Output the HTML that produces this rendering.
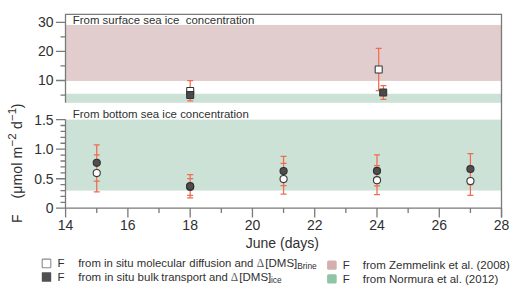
<!DOCTYPE html>
<html><head><meta charset="utf-8"><style>
html,body{margin:0;padding:0;background:#fff;}
body{width:520px;height:296px;overflow:hidden;}
svg{display:block;font-family:"Liberation Sans",sans-serif;fill:#222;}
text{fill:#303030;}
</style></head><body>
<svg width="520" height="296" viewBox="0 0 520 296">
<rect x="66.0" y="24.92" width="435.0" height="56.02" fill="#e1cdcd"/>
<rect x="66.0" y="93.74" width="435.0" height="9.06" fill="#cce2d6"/>
<rect x="66.0" y="119.61" width="435.0" height="70.96" fill="#cce2d6"/>
<path d="M65.5 102.8V14.3H501.5V217.6 M65.5 119.5V208.1 M56 208.1H501.5" fill="none" stroke="#7a7a7a" stroke-width="1.3"/>
<path d="M56 80.50H65.5 M56 51.40H65.5 M56 22.30H65.5 M60.5 95.05H65.5 M60.5 65.95H65.5 M60.5 36.85H65.5 M60.5 202.39H65.5 M60.5 196.47H65.5 M60.5 190.56H65.5 M60.5 184.65H65.5 M56 178.74H65.5 M60.5 172.82H65.5 M60.5 166.91H65.5 M60.5 161.00H65.5 M60.5 155.08H65.5 M56 149.17H65.5 M60.5 143.26H65.5 M60.5 137.34H65.5 M60.5 131.43H65.5 M60.5 125.52H65.5 M56 119.61H65.5 M65.60 208.1V217.6 M96.74 208.1V212.9 M127.88 208.1V217.6 M159.02 208.1V212.9 M190.16 208.1V217.6 M221.30 208.1V212.9 M252.44 208.1V217.6 M283.58 208.1V212.9 M314.72 208.1V217.6 M345.86 208.1V212.9 M377.00 208.1V217.6 M408.14 208.1V212.9 M439.28 208.1V217.6 M470.42 208.1V212.9 M501.56 208.1V217.6" fill="none" stroke="#7a7a7a" stroke-width="1.3"/>
<text x="53.6" y="85.40" text-anchor="end" font-size="14">10</text>
<text x="53.6" y="56.30" text-anchor="end" font-size="14">20</text>
<text x="53.6" y="27.20" text-anchor="end" font-size="14">30</text>
<text x="53.6" y="213.20" text-anchor="end" font-size="14">0</text>
<text x="53.6" y="183.64" text-anchor="end" font-size="14">0.5</text>
<text x="53.6" y="154.07" text-anchor="end" font-size="14">1.0</text>
<text x="53.6" y="124.51" text-anchor="end" font-size="14">1.5</text>
<text x="65.60" y="230" text-anchor="middle" font-size="14">14</text>
<text x="127.88" y="230" text-anchor="middle" font-size="14">16</text>
<text x="190.16" y="230" text-anchor="middle" font-size="14">18</text>
<text x="252.44" y="230" text-anchor="middle" font-size="14">20</text>
<text x="314.72" y="230" text-anchor="middle" font-size="14">22</text>
<text x="377.00" y="230" text-anchor="middle" font-size="14">24</text>
<text x="439.28" y="230" text-anchor="middle" font-size="14">26</text>
<text x="501.56" y="230" text-anchor="middle" font-size="14">28</text>
<text x="282.3" y="247.5" text-anchor="middle" font-size="14">June (days)</text>
<text transform="translate(21.7 0) rotate(-90)" font-size="14"><tspan x="-223.1">F</tspan><tspan x="-198.6" letter-spacing="0.15">(μmol m</tspan><tspan font-size="11.5" dx="0.2" dy="-5.8">−2</tspan><tspan dy="5.8" dx="0.4"> d</tspan><tspan font-size="11.5" dx="0.4" dy="-5.8">−1</tspan><tspan dy="5.8" dx="-0.4">)</tspan></text>
<text x="72.8" y="23.8" font-size="11.3" xml:space="preserve" textLength="181.5" lengthAdjust="spacingAndGlyphs">From surface sea ice  concentration</text>
<text x="72.8" y="117.6" font-size="11.3" textLength="176" lengthAdjust="spacingAndGlyphs">From bottom sea ice concentration</text>
<path d="M190.20 80.50V100.87 M187.20 80.50h6 M187.20 100.87h6 M378.70 48.34V90.69 M375.70 48.34h6 M375.70 90.69h6 M383.40 85.74V99.41 M380.40 85.74h6 M380.40 99.41h6 M96.74 144.80V181.20 M93.74 144.80h6 M93.74 181.20h6 M96.74 154.90V191.80 M93.74 154.90h6 M93.74 191.80h6 M190.16 174.70V197.80 M187.16 174.70h6 M187.16 197.80h6 M190.16 178.50V195.40 M187.16 178.50h6 M187.16 195.40h6 M283.58 156.30V185.70 M280.58 156.30h6 M280.58 185.70h6 M283.58 163.40V194.20 M280.58 163.40h6 M280.58 194.20h6 M377.00 154.90V185.80 M374.00 154.90h6 M374.00 185.80h6 M377.00 165.50V194.60 M374.00 165.50h6 M374.00 194.60h6 M470.42 153.50V184.70 M467.42 153.50h6 M467.42 184.70h6 M470.42 166.90V195.30 M467.42 166.90h6 M467.42 195.30h6" fill="none" stroke="#ef6c50" stroke-width="1.25"/>
<rect x="186.70" y="87.48" width="7.0" height="7.0" fill="#fff" stroke="#333" stroke-width="1.05" rx="0.5"/>
<rect x="186.70" y="91.55" width="7.0" height="7.0" fill="#4a4a4a" stroke="#333" stroke-width="1.05" rx="0.5"/>
<rect x="375.20" y="66.09" width="7.0" height="7.0" fill="#fff" stroke="#333" stroke-width="1.05" rx="0.5"/>
<rect x="379.70" y="88.93" width="7.0" height="7.0" fill="#4a4a4a" stroke="#333" stroke-width="1.05" rx="0.5"/>
<circle cx="96.74" cy="173.05" r="3.55" fill="#fff" stroke="#383838" stroke-width="1.1"/>
<circle cx="96.74" cy="162.85" r="3.55" fill="#4e4e4e" stroke="#303030" stroke-width="1.1"/>
<circle cx="190.16" cy="186.90" r="3.55" fill="#fff" stroke="#383838" stroke-width="1.1"/>
<circle cx="190.16" cy="186.20" r="3.55" fill="#4e4e4e" stroke="#303030" stroke-width="1.1"/>
<circle cx="283.58" cy="179.10" r="3.55" fill="#fff" stroke="#383838" stroke-width="1.1"/>
<circle cx="283.58" cy="171.00" r="3.55" fill="#4e4e4e" stroke="#303030" stroke-width="1.1"/>
<circle cx="377.00" cy="180.20" r="3.55" fill="#fff" stroke="#383838" stroke-width="1.1"/>
<circle cx="377.00" cy="170.90" r="3.55" fill="#4e4e4e" stroke="#303030" stroke-width="1.1"/>
<circle cx="470.42" cy="181.10" r="3.55" fill="#fff" stroke="#383838" stroke-width="1.1"/>
<circle cx="470.42" cy="169.00" r="3.55" fill="#4e4e4e" stroke="#303030" stroke-width="1.1"/>
<rect x="42.2" y="259.1" width="8.6" height="8.6" fill="#fff" stroke="#8a8a8a" stroke-width="1.1" rx="0.8"/>
<rect x="41.8" y="272.3" width="9.4" height="9.4" fill="#505050" rx="0.5"/>
<text x="57.6" y="267.2" font-size="11.5">F</text>
<text x="57.6" y="281" font-size="11.5">F</text>
<text x="78.2" y="267.2" font-size="11.5" textLength="107.6" lengthAdjust="spacingAndGlyphs">from in situ molecular</text>
<text x="189.33" y="267.2" font-size="11.5" textLength="64.1" lengthAdjust="spacingAndGlyphs">diffusion and</text>
<text x="256.86" y="267.2" font-size="11.5" font-family="Liberation Serif" style="fill:#555">Δ</text>
<text x="265.3" y="267.2" font-size="11.5">[DMS]</text>
<text x="297.2" y="268.6" font-size="8.4">Brine</text>
<text x="78.2" y="281" font-size="11.5">from in situ bulk</text>
<text x="161.3" y="281" font-size="11.5" textLength="66.5" lengthAdjust="spacingAndGlyphs">transport and</text>
<text x="230.8" y="281" font-size="11.5" font-family="Liberation Serif" style="fill:#555">Δ</text>
<text x="239.3" y="281" font-size="11.5">[DMS]</text>
<text x="270.9" y="282.8" font-size="8.4">ice</text>
<rect x="327.1" y="260.6" width="9.6" height="9.1" fill="#d5afaf" rx="1.5"/>
<rect x="327.1" y="274.2" width="9.6" height="9.4" fill="#8fc5a5" rx="1.5"/>
<text x="342.7" y="269.2" font-size="11.5">F</text>
<text x="342.7" y="283" font-size="11.5">F</text>
<text x="362.8" y="269.2" font-size="11.5">from Zemmelink et al. (2008)</text>
<text x="362.8" y="283" font-size="11.5">from Normura et al. (2012)</text>
</svg>
</body></html>
